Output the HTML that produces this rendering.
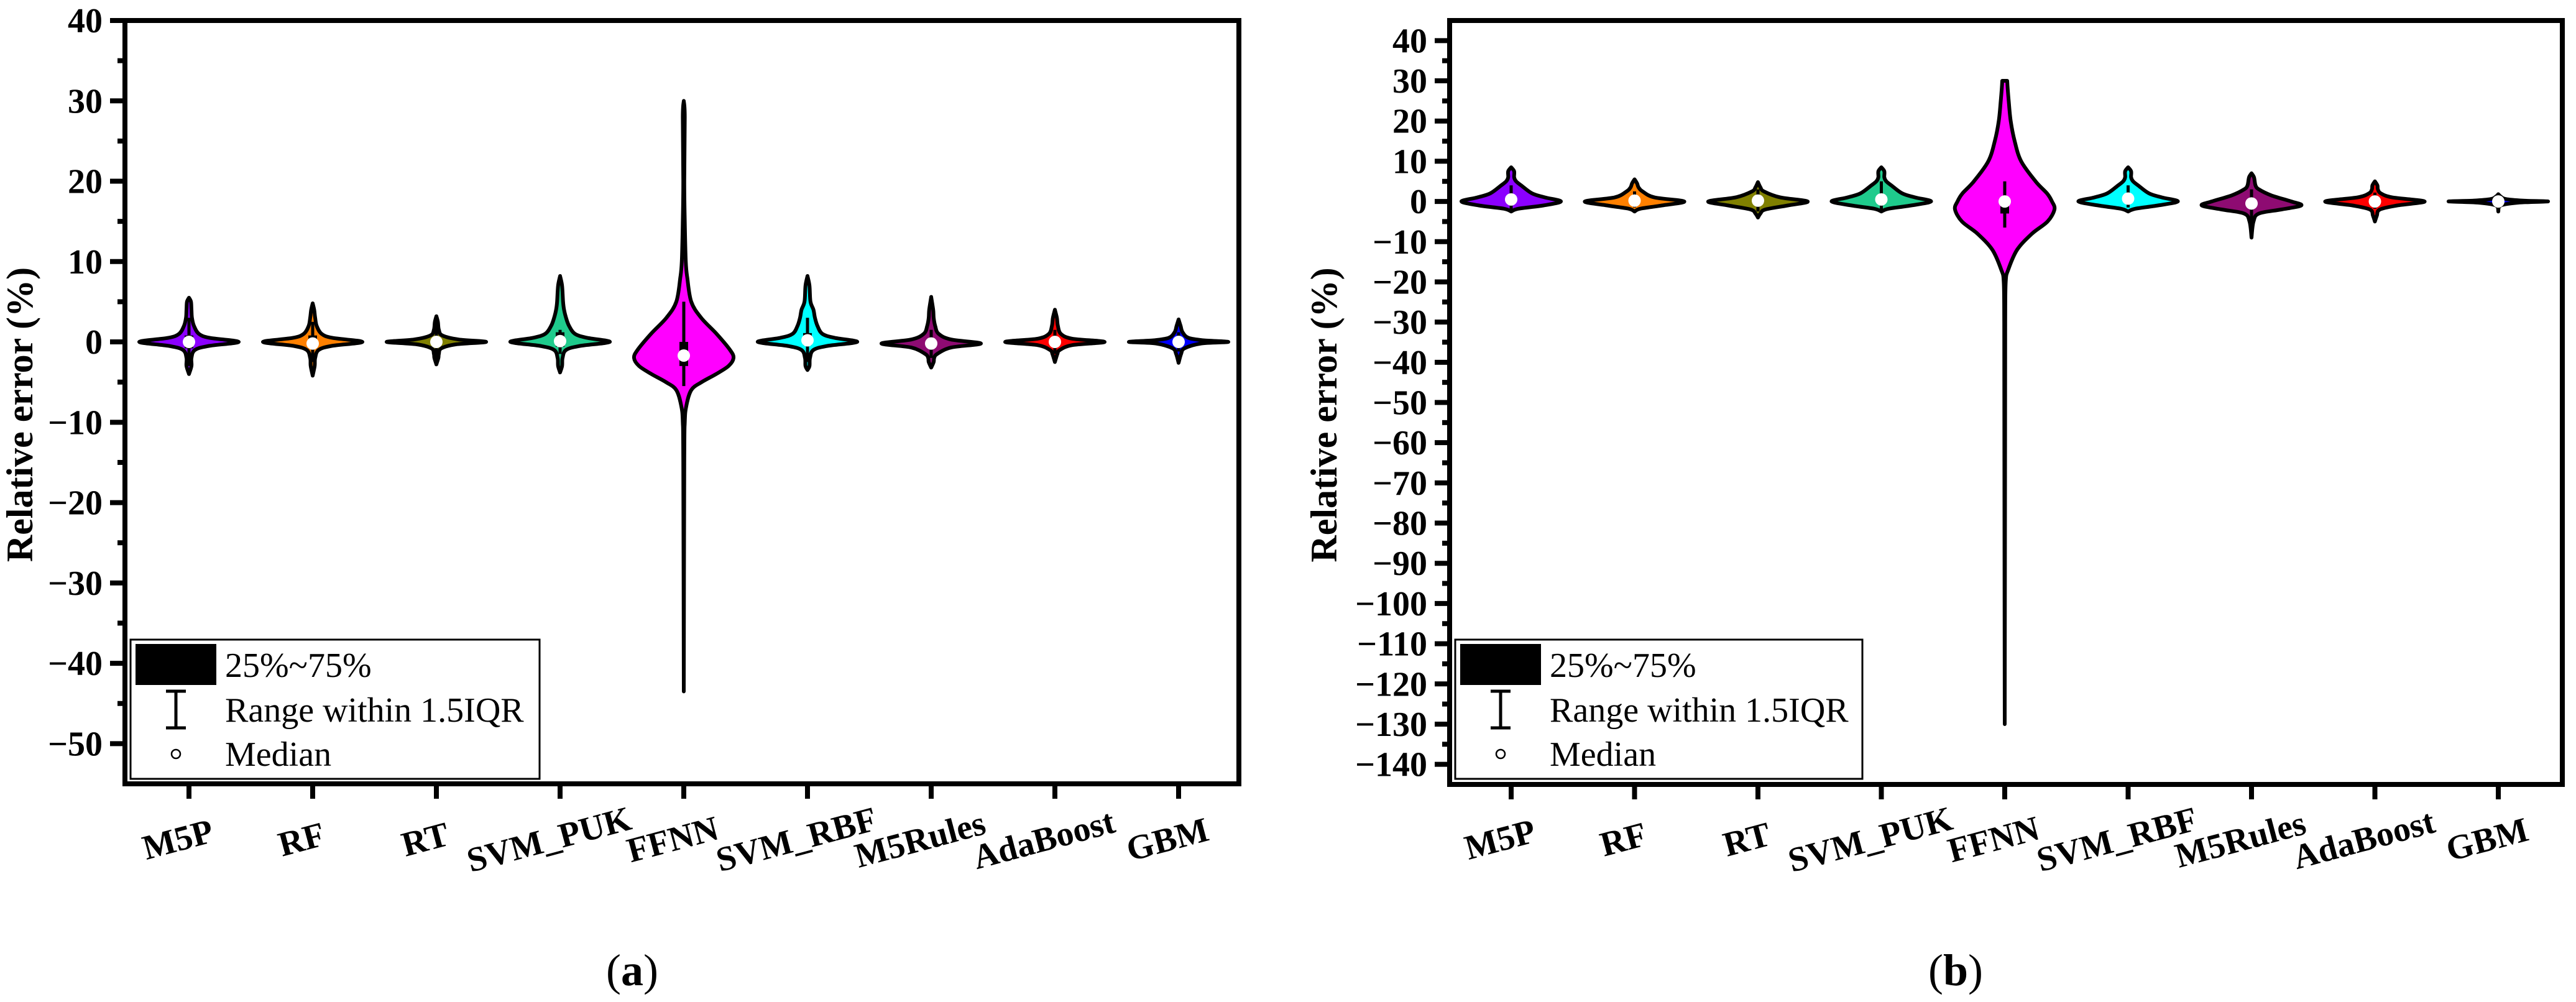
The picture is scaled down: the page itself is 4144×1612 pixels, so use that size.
<!DOCTYPE html>
<html><head><meta charset="utf-8">
<style>
html,body{margin:0;padding:0;background:#fff;}
svg{display:block;}
svg text{font-family:"Liberation Serif","Times New Roman",serif;}
</style></head>
<body>
<svg id="chart" width="4144" height="1612" viewBox="0 0 4144 1612" xmlns="http://www.w3.org/2000/svg" font-family="Liberation Serif, serif"></svg>
<script>
const categories = ["M5P","RF","RT","SVM_PUK","FFNN","SVM_RBF","M5Rules","AdaBoost","GBM"];
const colors = ["#8B00FF","#FF8000","#808000","#1FCB8C","#FF00FF","#00FFFF","#8E0B72","#FF0000","#0000FF"];
const ticksA = [40,30,20,10,0,-10,-20,-30,-40,-50];
const ticksB = [40,30,20,10,0,-10,-20,-30,-40,-50,-60,-70,-80,-90,-100,-110,-120,-130,-140];
// violin profiles: [value, relative half-width]
const profilesA = [
 [[5.5,0],[5,0.04],[4,0.05],[3,0.06],[2,0.1],[1,0.2],[0.5,0.42],[0,1],[-0.5,0.4],[-1,0.12],[-2,0.05],[-3,0.05],[-4,0]],
 [[4.8,0],[4,0.03],[3,0.05],[2,0.08],[1,0.18],[0.5,0.4],[0,1],[-0.5,0.38],[-1,0.12],[-2,0.05],[-3,0.04],[-4.2,0]],
 [[3.2,0],[2.5,0.03],[1.5,0.05],[0.8,0.12],[0.3,0.45],[0,1],[-0.3,0.4],[-0.8,0.1],[-1.5,0.05],[-2,0.04],[-2.8,0]],
 [[8.2,0],[7,0.04],[5,0.06],[4,0.08],[3,0.12],[2,0.18],[1,0.3],[0.5,0.55],[0,1],[-0.5,0.4],[-1,0.12],[-2,0.05],[-3,0.04],[-3.8,0]],
 [[30,0],[28,0.02],[20,0.01],[15,0.02],[10,0.04],[8,0.07],[5,0.15],[3,0.35],[1,0.66],[-1,0.93],[-2,1],[-3,0.9],[-4,0.65],[-5,0.36],[-6,0.15],[-8,0.05],[-10,0.02],[-15,0.01],[-43.5,0]],
 [[8.2,0],[7,0.04],[5,0.06],[4,0.12],[3,0.15],[2,0.2],[1,0.3],[0.5,0.55],[0,1],[-0.5,0.4],[-1,0.12],[-2,0.05],[-3,0.04],[-3.5,0]],
 [[5.6,0],[4,0.04],[3,0.05],[2,0.08],[1,0.15],[0.3,0.4],[-0.2,1],[-0.7,0.4],[-1.5,0.12],[-2,0.06],[-2.5,0.05],[-3.2,0]],
 [[4,0],[3,0.04],[2,0.06],[1,0.12],[0.4,0.35],[0,1],[-0.4,0.35],[-1,0.1],[-1.5,0.05],[-2.5,0]],
 [[2.8,0],[2,0.04],[1.2,0.08],[0.5,0.2],[0.2,0.5],[0,1],[-0.2,0.45],[-0.8,0.12],[-1.5,0.05],[-2.6,0]]
];
const profilesB = [
 [[8.5,0],[7.5,0.06],[6,0.06],[5,0.1],[4,0.2],[2,0.42],[1,0.68],[0,1],[-1,0.65],[-1.8,0.15],[-2.5,0]],
 [[5.5,0],[4.5,0.05],[3.5,0.08],[2.5,0.16],[1,0.4],[0,1],[-1,0.55],[-1.8,0.12],[-2.5,0]],
 [[4.8,0],[3.5,0.05],[2.5,0.12],[1,0.45],[0,1],[-1,0.6],[-2,0.15],[-3,0.05],[-4,0]],
 [[8.5,0],[7.5,0.06],[6,0.06],[5,0.1],[4,0.2],[2,0.42],[1,0.68],[0,1],[-1,0.6],[-1.8,0.15],[-2.5,0]],
 [[30,0.05],[28,0.06],[25,0.08],[20,0.12],[15,0.2],[10,0.33],[5,0.62],[2,0.85],[0,0.95],[-2,1],[-5,0.86],[-8,0.55],[-12,0.25],[-17,0.07],[-20,0.02],[-30,0.01],[-60,0.008],[-130,0]],
 [[8.5,0],[7.5,0.06],[6,0.06],[5,0.1],[4,0.2],[2,0.42],[1,0.68],[0,1],[-1,0.6],[-1.8,0.15],[-2.5,0]],
 [[7,0],[6,0.05],[4,0.08],[3,0.15],[1.5,0.4],[0,0.8],[-1,1],[-2,0.6],[-3,0.15],[-5,0.04],[-9,0]],
 [[5,0],[4,0.05],[3,0.06],[2,0.12],[1,0.35],[0,1],[-1,0.45],[-2,0.1],[-3.5,0.04],[-5,0]],
 [[1.8,0],[1.2,0.05],[0.6,0.15],[0.2,0.5],[0,1],[-0.3,0.4],[-1,0.05],[-2.5,0]]
];
// box stats: [q1, q3, whiskerLow, whiskerHigh, median]
const boxA = [[-0.8,0.8,-3,3,0],[-0.8,0.8,-2.5,2.5,-0.2],[-0.3,0.4,-2,2,0],[-0.6,1.2,-1.5,1.5,0.1],[-3,0,-5.5,5,-1.7],[-0.4,1.1,-2.5,3,0.2],[-0.8,0.3,-2,1.5,-0.2],[-0.5,0.5,-1.5,1.5,0],[-0.3,0.4,-1.2,1.2,0]];
const boxB = [[-0.5,1.2,-2,4,0.5],[-0.5,0.8,-1.5,2.5,0.2],[-0.6,0.8,-2.5,3,0.2],[-0.5,1.5,-2,5,0.5],[-3,0.5,-6.5,5,0],[-0.3,1.5,-1.5,4,0.7],[-1.5,0.3,-8,3,-0.5],[-0.5,0.6,-1.8,2.2,0],[-0.3,0.3,-1,1,0]];

const NS="http://www.w3.org/2000/svg";
const FONT='Liberation Serif, Times New Roman, serif';
const svg=document.getElementById('chart');
function mk(tag,attrs,parent){const e=document.createElementNS(NS,tag);for(const k in attrs)e.setAttribute(k,attrs[k]);if(tag==='text')e.setAttribute('font-family',FONT);(parent||svg).appendChild(e);return e;}

function smoothPath(pts){
  let d="M"+pts[0][0]+","+pts[0][1];
  for(let i=0;i<pts.length-1;i++){
    const p0=pts[Math.max(0,i-1)],p1=pts[i],p2=pts[i+1],p3=pts[Math.min(pts.length-1,i+2)];
    const c1=[p1[0]+(p2[0]-p0[0])/6,p1[1]+(p2[1]-p0[1])/6];
    const c2=[p2[0]-(p3[0]-p1[0])/6,p2[1]-(p3[1]-p1[1])/6];
    d+=" C"+c1[0].toFixed(1)+","+c1[1].toFixed(1)+" "+c2[0].toFixed(1)+","+c2[1].toFixed(1)+" "+p2[0].toFixed(1)+","+p2[1].toFixed(1);
  }
  return d;
}

function panel(cfg){
  const g=mk('g',{});
  
  
  const y=v=>cfg.top+(cfg.ymax-v)/(cfg.ymax-cfg.ymin)*(cfg.bottom-cfg.top);
  const x=i=>cfg.x0+cfg.step*i;
  const ty=(cfg.top+cfg.bottom)/2+20;
  const yt=mk('text',{x:cfg.titleX,y:ty,'font-size':60,'font-weight':'bold','text-anchor':'middle',transform:`rotate(-90 ${cfg.titleX} ${ty})`},g);
  yt.textContent="Relative error (%)";
  
  
  cfg.profiles.forEach((prof,i)=>{
    const cx=x(i);
    const right=prof.map(p=>[cx+p[1]*cfg.half,y(p[0])]);
    const left=prof.slice().reverse().map(p=>[cx-p[1]*cfg.half,y(p[0])]);
    const d=smoothPath(right)+" L"+smoothPath(left).slice(1)+" Z";
    const vg=mk('g',{},g);
    
    
    mk('path',{d:d,fill:cfg.colors[i],stroke:'#000','stroke-width':6,'stroke-linejoin':'round'},vg);
    const b=cfg.box[i];
    const wl=mk('line',{x1:cx,x2:cx,y1:y(b[2]),y2:y(b[3]),stroke:'#000','stroke-width':5},vg);
    
    
    const br=mk('rect',{x:cx-7,y:y(b[1]),width:14,height:Math.max(2,y(b[0])-y(b[1])),fill:'#000'},vg);
    
    
    const md=mk('circle',{cx:cx,cy:y(b[4]),r:10,fill:'#fff'},vg);
    
    
  });
  cfg.ticks.forEach(t=>{
    const yy=y(t);
    mk('line',{x1:cfg.left-24,x2:cfg.left,y1:yy,y2:yy,stroke:'#000','stroke-width':8},g);
    const tl=mk('text',{x:cfg.left-36,y:yy+19,'font-size':56,'font-weight':'bold','text-anchor':'end'},g);
    tl.textContent=t<0?"\u2212"+(-t):String(t);
    
    
    const m=t-5;
    if(m>cfg.ymin){mk('line',{x1:cfg.left-12,x2:cfg.left,y1:y(m),y2:y(m),stroke:'#000','stroke-width':8},g);}
  });
  categories.forEach((c,i)=>{
    const cx=x(i);
    mk('line',{x1:cx,x2:cx,y1:cfg.bottom,y2:cfg.bottom+24,stroke:'#000','stroke-width':8},g);
    const lx=cx-18, ly=1350;
    const tl=mk('text',{x:lx,y:ly+19,'font-size':56,'font-weight':'bold','text-anchor':'middle',transform:`rotate(-15 ${lx} ${ly})`},g);
    tl.textContent=c;
    
    
  });
  const fr=mk('rect',{x:cfg.left,y:cfg.top,width:cfg.right-cfg.left,height:cfg.bottom-cfg.top,fill:'none',stroke:'#000','stroke-width':8},g);
  
  
  const lg=mk('g',{},g);
  
  
  const L=cfg.left+9;
  mk('rect',{x:L,y:1029,width:cfg.legendW,height:224,fill:'#fff',stroke:'#000','stroke-width':3},lg);
  mk('rect',{x:L+8,y:1036,width:130,height:66,fill:'#000'},lg);
  mk('line',{x1:L+73,x2:L+73,y1:1112,y2:1171,stroke:'#000','stroke-width':5},lg);
  mk('line',{x1:L+57,x2:L+89,y1:1112,y2:1112,stroke:'#000','stroke-width':5},lg);
  mk('line',{x1:L+57,x2:L+89,y1:1171,y2:1171,stroke:'#000','stroke-width':5},lg);
  mk('circle',{cx:L+73,cy:1213,r:7,fill:'#fff',stroke:'#000','stroke-width':2.5},lg);
  [["25%~75%",1089],["Range within 1.5IQR",1161],["Median",1232]].forEach(a=>{
    const t=mk('text',{x:L+152,y:a[1],'font-size':56},lg);t.textContent=a[0];
    
    
  });
  const cap=mk('text',{x:cfg.capX,y:1585,'font-size':72,'text-anchor':'middle'},g);
  cap.innerHTML='(<tspan font-weight="bold">'+cfg.cap+'</tspan>)';
  
  
}

panel({name:'panel-a',left:201,right:1993,top:33,bottom:1261,ymin:-55,ymax:40,x0:304,step:199,half:80,
  profiles:profilesA,box:boxA,colors:colors,ticks:ticksA,titleX:52,legendW:658,capX:1017,cap:'a'});
panel({name:'panel-b',left:2332,right:4122,top:33,bottom:1262,ymin:-145,ymax:45,x0:2431,step:198.5,half:80,
  profiles:profilesB,box:boxB,colors:colors,ticks:ticksB,titleX:2150,legendW:655,capX:3146,cap:'b'});
</script>
</body></html>
